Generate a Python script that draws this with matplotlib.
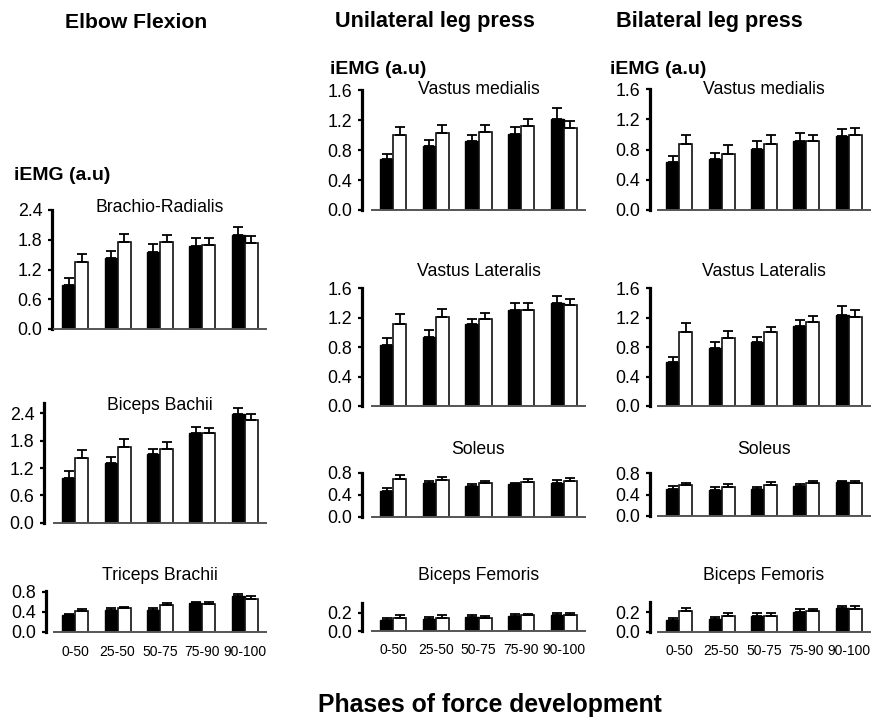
import matplotlib
matplotlib.use('Agg')
import matplotlib.pyplot as plt
import numpy as np

plt.rcParams['font.family'] = ['Liberation Sans', 'DejaVu Sans']

phases = ['0-50', '25-50', '50-75', '75-90', '90-100']

# ---- Elbow flexion ----
br_black = [0.89, 1.44, 1.56, 1.67, 1.90]
br_black_err = [0.13, 0.13, 0.15, 0.16, 0.16]
br_white = [1.36, 1.75, 1.75, 1.70, 1.73]
br_white_err = [0.15, 0.17, 0.15, 0.13, 0.15]

bb_black = [0.99, 1.32, 1.50, 1.98, 2.39]
bb_black_err = [0.15, 0.13, 0.12, 0.12, 0.12]
bb_white = [1.43, 1.67, 1.62, 1.96, 2.25]
bb_white_err = [0.16, 0.17, 0.15, 0.11, 0.13]

tb_black = [0.33, 0.43, 0.44, 0.57, 0.71]
tb_black_err = [0.03, 0.04, 0.03, 0.03, 0.04]
tb_white = [0.42, 0.48, 0.53, 0.56, 0.66]
tb_white_err = [0.03, 0.02, 0.04, 0.04, 0.06]

# ---- Unilateral leg press ----
uvm_black = [0.68, 0.85, 0.92, 1.01, 1.21]
uvm_black_err = [0.07, 0.08, 0.08, 0.10, 0.15]
uvm_white = [1.00, 1.03, 1.04, 1.12, 1.10]
uvm_white_err = [0.11, 0.10, 0.09, 0.10, 0.09]

uvl_black = [0.83, 0.94, 1.11, 1.30, 1.40]
uvl_black_err = [0.10, 0.09, 0.07, 0.10, 0.10]
uvl_white = [1.12, 1.21, 1.18, 1.31, 1.37]
uvl_white_err = [0.13, 0.11, 0.09, 0.09, 0.09]

uso_black = [0.47, 0.61, 0.56, 0.59, 0.62]
uso_black_err = [0.05, 0.04, 0.03, 0.03, 0.04]
uso_white = [0.68, 0.67, 0.61, 0.64, 0.65]
uso_white_err = [0.08, 0.06, 0.04, 0.04, 0.05]

ubf_black = [0.12, 0.13, 0.15, 0.16, 0.17]
ubf_black_err = [0.02, 0.02, 0.02, 0.03, 0.03]
ubf_white = [0.14, 0.14, 0.14, 0.17, 0.17]
ubf_white_err = [0.03, 0.03, 0.02, 0.02, 0.03]

# ---- Bilateral leg press ----
bvm_black = [0.63, 0.67, 0.81, 0.92, 0.98]
bvm_black_err = [0.09, 0.08, 0.11, 0.10, 0.09]
bvm_white = [0.87, 0.74, 0.88, 0.91, 0.99]
bvm_white_err = [0.13, 0.12, 0.11, 0.09, 0.10]

bvl_black = [0.60, 0.78, 0.87, 1.08, 1.24]
bvl_black_err = [0.07, 0.09, 0.07, 0.08, 0.11]
bvl_white = [1.00, 0.92, 1.00, 1.14, 1.21]
bvl_white_err = [0.13, 0.10, 0.07, 0.08, 0.09]

bso_black = [0.50, 0.49, 0.51, 0.56, 0.63]
bso_black_err = [0.05, 0.05, 0.03, 0.04, 0.02]
bso_white = [0.57, 0.54, 0.58, 0.61, 0.62]
bso_white_err = [0.05, 0.05, 0.05, 0.05, 0.03]

bbf_black = [0.12, 0.13, 0.16, 0.20, 0.24]
bbf_black_err = [0.02, 0.02, 0.03, 0.03, 0.025]
bbf_white = [0.21, 0.165, 0.16, 0.21, 0.23]
bbf_white_err = [0.03, 0.025, 0.03, 0.02, 0.03]

W, H = 893, 717
fig = plt.figure(figsize=(W / 100, H / 100), dpi=100)
fig.patch.set_facecolor('white')

col_x = {0: (54, 266), 1: (372, 585), 2: (658, 870)}

# (title, black, black_err, white, white_err, col, y0px, toppx, ymax, yticks, spine_gap_px, title_y_px, xlabels)
panels = [
    ('Brachio-Radialis', br_black, br_black_err, br_white, br_white_err, 0, 329, 210, 2.4,
     [0.0, 0.6, 1.2, 1.8, 2.4], 2, 208, False),
    ('Biceps Bachii', bb_black, bb_black_err, bb_white, bb_white_err, 0, 522.7, 403, 2.63,
     [0.0, 0.6, 1.2, 1.8, 2.4], 10, 406, False),
    ('Triceps Brachii', tb_black, tb_black_err, tb_white, tb_white_err, 0, 632, 590.7, 0.82,
     [0.0, 0.4, 0.8], 8, 575, True),
    ('Vastus medialis', uvm_black, uvm_black_err, uvm_white, uvm_white_err, 1, 210, 90.3, 1.6,
     [0.0, 0.4, 0.8, 1.2, 1.6], 10, 90, False),
    ('Vastus Lateralis', uvl_black, uvl_black_err, uvl_white, uvl_white_err, 1, 406, 288.3, 1.6,
     [0.0, 0.4, 0.8, 1.2, 1.6], 10, 272, False),
    ('Soleus', uso_black, uso_black_err, uso_white, uso_white_err, 1, 516.7, 472.7, 0.8,
     [0.0, 0.4, 0.8], 10, 450, False),
    ('Biceps Femoris', ubf_black, ubf_black_err, ubf_white, ubf_white_err, 1, 631, 602.6, 0.31,
     [0.0, 0.2], 10, 575, True),
    ('Vastus medialis', bvm_black, bvm_black_err, bvm_white, bvm_white_err, 2, 210, 89.3, 1.6,
     [0.0, 0.4, 0.8, 1.2, 1.6], 8, 90, False),
    ('Vastus Lateralis', bvl_black, bvl_black_err, bvl_white, bvl_white_err, 2, 406, 288, 1.6,
     [0.0, 0.4, 0.8, 1.2, 1.6], 8, 272, False),
    ('Soleus', bso_black, bso_black_err, bso_white, bso_white_err, 2, 516, 473, 0.8,
     [0.0, 0.4, 0.8], 8, 450, False),
    ('Biceps Femoris', bbf_black, bbf_black_err, bbf_white, bbf_white_err, 2, 631.7, 601.6, 0.31,
     [0.0, 0.2], 8, 575, True),
]

x = np.arange(len(phases))
w = 0.307

for (title, bk, bke, wh, whe, col, y0, top, ymax, yt, gap, ty, showx) in panels:
    xl, xr = col_x[col]
    ax = fig.add_axes([xl / W, 1 - y0 / H, (xr - xl) / W, (y0 - top) / H])
    ax.set_xlim(-0.5, len(phases) - 0.5)
    ax.set_ylim(0, ymax)
    ax.bar(x - w / 2, bk, w, color='black', edgecolor='black', linewidth=1.0, zorder=2)
    ax.bar(x + w / 2, wh, w, color='white', edgecolor='#111111', linewidth=1.2, zorder=2)
    ax.errorbar(x - w / 2, bk, yerr=[np.zeros(len(bk)), bke], fmt='none', ecolor='black',
                elinewidth=1.3, capsize=3.4, capthick=1.3, zorder=3, clip_on=False)
    ax.errorbar(x + w / 2, wh, yerr=[np.zeros(len(wh)), whe], fmt='none', ecolor='black',
                elinewidth=1.3, capsize=3.4, capthick=1.3, zorder=3, clip_on=False)
    for s in ('top', 'right'):
        ax.spines[s].set_visible(False)
    ax.spines['bottom'].set_color('#555555')
    ax.spines['bottom'].set_linewidth(1.4)
    ax.spines['left'].set_linewidth(2.3)
    ax.spines['left'].set_color('black')
    ax.spines['left'].set_position(('outward', gap * 0.72))
    ax.set_yticks(yt)
    ax.set_yticklabels(['%.1f' % v for v in yt])
    ax.tick_params(axis='y', direction='out', length=3, width=1.6, pad=4, labelsize=12.8)
    ax.set_xticks(x)
    if showx:
        ax.set_xticklabels(phases, fontsize=10)
    else:
        ax.set_xticklabels([])
    ax.tick_params(axis='x', length=0, pad=9)
    ax.patch.set_alpha(0)
    fig.text((xl + xr) / 2 / W, 1 - ty / H, title, ha='center', va='center', fontsize=12.7)

# headings
fig.text(136 / W, 1 - 22 / H, 'Elbow Flexion', ha='center', va='center', fontsize=15.2, fontweight='bold')
fig.text(435 / W, 1 - 22 / H, 'Unilateral leg press', ha='center', va='center', fontsize=15.6, fontweight='bold')
fig.text(709 / W, 1 - 22 / H, 'Bilateral leg press', ha='center', va='center', fontsize=15.6, fontweight='bold')

for xp, yp in [(14, 175), (330, 70), (610, 70)]:
    fig.text(xp / W, 1 - yp / H, 'iEMG (a.u)', ha='left', va='center', fontsize=14, fontweight='bold')

fig.text(490 / W, 1 - 705 / H, 'Phases of force development', ha='center', va='center',
         fontsize=17.8, fontweight='bold')

fig.savefig('out.png', dpi=100, facecolor='white')
